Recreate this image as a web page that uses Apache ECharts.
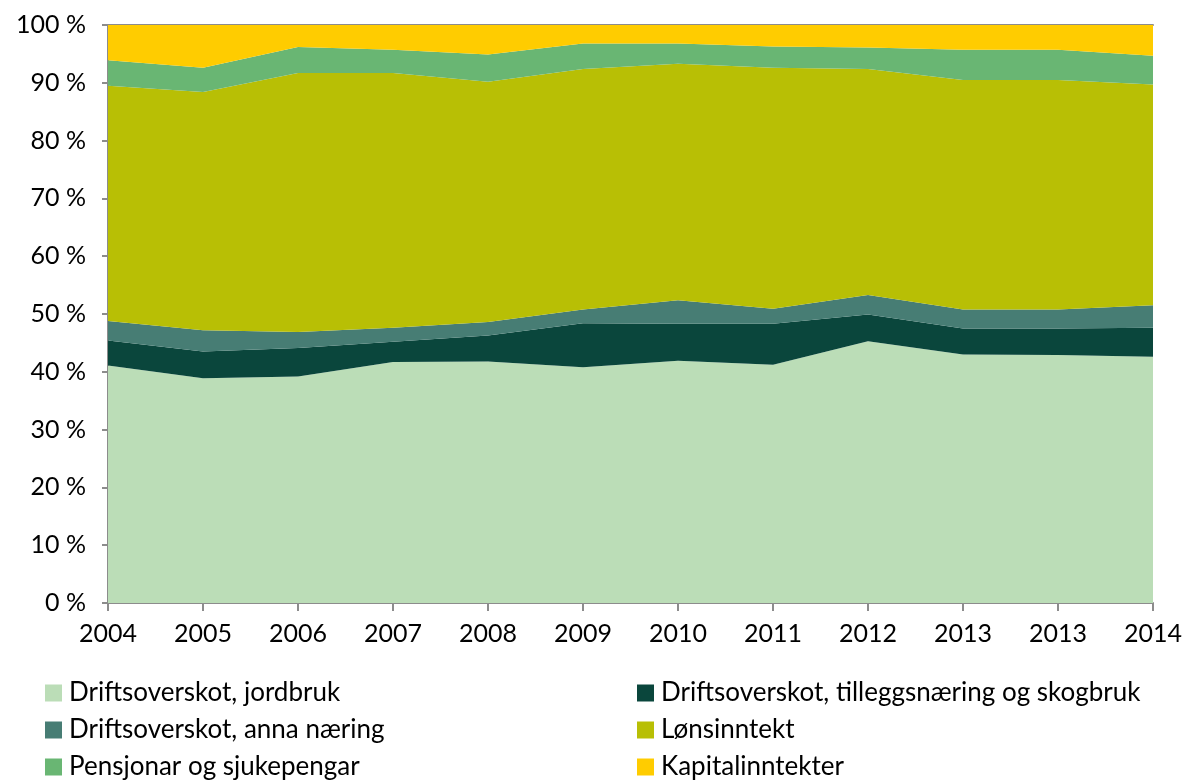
<!DOCTYPE html>
<html>
<head>
<meta charset="utf-8">
<script src="https://cdn.jsdelivr.net/npm/echarts@6/dist/echarts.min.js"></script>
<style>
  html, body { margin: 0; padding: 0; background: #fff; }
  #main { width: 1187px; height: 783px; }
</style>
</head>
<body>
<div id="main"></div>
<script>
// x-axis categories (note: 2013 appears twice in the source chart)
var years = ['2004', '2005', '2006', '2007', '2008', '2009', '2010', '2011', '2012', '2013', '2013', '2014'];

// shares in percent
var jordbruk  = [41.1, 38.9, 39.2, 41.7, 41.8, 40.8, 41.9, 41.2, 45.3, 43.0, 42.9, 42.6];
var tillegg   = [4.3, 4.6, 4.9, 3.5, 4.5, 7.6, 6.4, 7.1, 4.6, 4.5, 4.6, 5.0];
var anna      = [3.4, 3.7, 2.8, 2.4, 2.3, 2.4, 4.1, 2.6, 3.4, 3.3, 3.3, 3.9];
var lonn      = [40.7, 41.2, 44.8, 44.1, 41.6, 41.6, 40.9, 41.7, 39.1, 39.7, 39.7, 38.2];
var pensjon   = [4.4, 4.2, 4.5, 4.0, 4.7, 4.4, 3.5, 3.7, 3.7, 5.2, 5.2, 5.0];
var kapital   = [6.1, 7.4, 3.8, 4.3, 5.1, 3.2, 3.2, 3.7, 3.9, 4.3, 4.3, 5.3];

var names = [
  'Driftsoverskot, jordbruk',
  'Driftsoverskot, tilleggsnæring og skogbruk',
  'Driftsoverskot, anna næring',
  'Lønsinntekt',
  'Pensjonar og sjukepengar',
  'Kapitalinntekter'
];
var colors = ['#bbddb7', '#0a463c', '#477d74', '#b8bf05', '#69b673', '#ffcc00'];
var values = [jordbruk, tillegg, anna, lonn, pensjon, kapital];

var font = 'Lato, "Open Sans", sans-serif';
var axisGray = '#8c8c8c';

var chart = echarts.init(document.getElementById('main'));

var series = names.map(function (n, i) {
  return {
    name: n,
    type: 'line',
    stack: 'total',
    data: values[i],
    symbol: 'none',
    lineStyle: { width: 0 },
    areaStyle: { color: colors[i], opacity: 1 },
    itemStyle: { color: colors[i] },
    emphasis: { disabled: true }
  };
});

// one legend per entry, laid out as two columns of three rows like the original
var legends = names.map(function (n, i) {
  var col = i % 2, row = Math.floor(i / 2);
  return {
    data: [n],
    left: col === 0 ? 40 : 632,
    top: 675 + row * 37,
    itemWidth: 17, itemHeight: 17,
    icon: 'rect',
    selectedMode: false,
    textStyle: { fontFamily: font, fontSize: 26, lineHeight: 26, color: '#000', padding: [0, 0, 0, 2] }
  };
});

var option = {
  backgroundColor: '#ffffff',
  animation: false,
  grid: { left: 108, right: 34, top: 25, bottom: 180, containLabel: false },
  legend: legends,
  xAxis: [
    {
      type: 'category',
      data: years,
      boundaryGap: false,
      axisLine: { lineStyle: { color: axisGray, width: 2 } },
      axisTick: { show: true, length: 8, alignWithLabel: true, lineStyle: { color: axisGray, width: 2 } },
      axisLabel: { fontFamily: font, fontSize: 25, color: '#000', margin: 18, interval: 0 },
      splitLine: { show: false }
    },
    {
      type: 'category',
      data: years,
      position: 'top',
      boundaryGap: false,
      axisLine: { lineStyle: { color: axisGray, width: 2 } },
      axisTick: { show: false },
      axisLabel: { show: false },
      splitLine: { show: false }
    }
  ],
  yAxis: {
    type: 'value',
    min: 0,
    max: 100,
    interval: 10,
    axisLine: { show: true, lineStyle: { color: axisGray, width: 2 } },
    axisTick: { show: true, length: 6, lineStyle: { color: axisGray, width: 2 } },
    axisLabel: {
      fontFamily: font, fontSize: 25, color: '#000', margin: 22,
      formatter: function (v) { return v + ' %'; }
    },
    splitLine: { show: false }
  },
  series: series
};

chart.setOption(option);
</script>
</body>
</html>
